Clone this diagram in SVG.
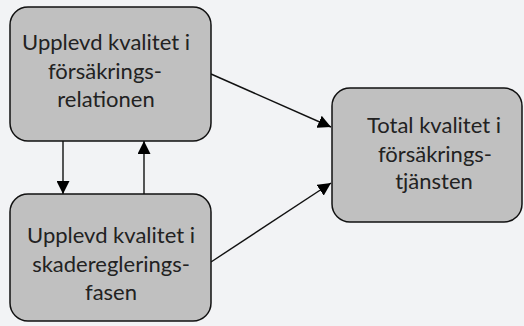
<svg xmlns="http://www.w3.org/2000/svg" width="524" height="326" viewBox="0 0 524 326">
<style>
.box{fill:#c0c0c0;stroke:#111;stroke-width:1.5}
.t{font-family:Lato,"Liberation Sans",sans-serif;font-size:22px;fill:#222;text-anchor:middle}
.c{stroke:#111;stroke-width:1.4;fill:none;marker-end:url(#ah)}
</style>
<defs>
<marker id="ah" viewBox="0 0 13 13" refX="13" refY="6.5" markerWidth="13" markerHeight="13" markerUnits="userSpaceOnUse" orient="auto">
<path d="M0,0 L13,6.5 L0,13 Z" fill="#000"/>
</marker>
</defs>
<rect width="524" height="326" fill="#f2f3f5"/>
<g id="connectors">
<line class="c" x1="63" y1="141" x2="63" y2="194"/>
<line class="c" x1="144" y1="194" x2="144" y2="141"/>
<line class="c" x1="211" y1="74" x2="331" y2="127"/>
<line class="c" x1="211" y1="262" x2="331" y2="183"/>
</g>
<g id="node1">
<rect class="box" x="10" y="7" width="201" height="134" rx="18"/>
<text class="t" x="106" y="50">Upplevd kvalitet i</text>
<text class="t" x="105" y="79">försäkrings-</text>
<text class="t" x="106" y="107">relationen</text>
</g>
<g id="node2">
<rect class="box" x="10" y="194" width="201" height="127" rx="18"/>
<text class="t" x="111" y="243">Upplevd kvalitet i</text>
<text class="t" x="111" y="272">skadereglerings-</text>
<text class="t" x="111" y="300">fasen</text>
</g>
<g id="node3">
<rect class="box" x="332" y="88" width="190" height="134" rx="18"/>
<text class="t" x="434" y="133">Total kvalitet i</text>
<text class="t" x="435" y="162">försäkrings-</text>
<text class="t" x="434" y="189">tjänsten</text>
</g>
</svg>
